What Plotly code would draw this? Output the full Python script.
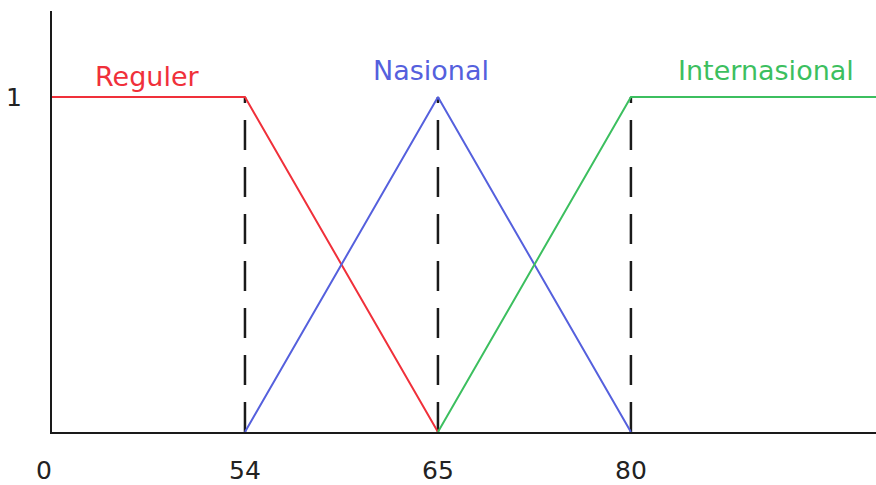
import plotly.graph_objects as go

# Breakpoints of the universe (tick labels) and their ordinal positions on the axis
tick_labels = ["0", "54", "65", "80"]
tick_pos = [0, 1, 2, 3]
x_end = 4.27  # right end of the axis (ordinal units)

# Membership functions (ordinal x, membership degree)
reguler_x = [0, 1, 2]
reguler_y = [1, 1, 0]
nasional_x = [1, 2, 3]
nasional_y = [0, 1, 0]
internasional_x = [2, 3, x_end]
internasional_y = [0, 1, 1]

series_names = ["Reguler", "Nasional", "Internasional"]
colors = ["#f0303a", "#5560dd", "#3cbf5f"]

# Dashed guides at the breakpoints 54, 65, 80
guide_x = [1, 2, 3]

FONT = "DejaVu Sans"

fig = go.Figure()
for gx in guide_x:
    fig.add_trace(go.Scatter(x=[gx, gx], y=[0, 1], mode="lines",
                             line=dict(color="#1a1a1a", width=2.5, dash="30px,17px"),
                             showlegend=False, hoverinfo="skip"))

for xs, ys, name, c in zip([reguler_x, nasional_x, internasional_x],
                           [reguler_y, nasional_y, internasional_y],
                           series_names, colors):
    fig.add_trace(go.Scatter(x=xs, y=ys, mode="lines", name=name,
                             line=dict(color=c, width=2), showlegend=False))

# Series labels
label_pos = [(0.495, 1.06), (1.966, 1.08), (3.70, 1.08)]
for name, c, (lx, ly) in zip(series_names, colors, label_pos):
    fig.add_annotation(x=lx, y=ly, text=name, showarrow=False,
                       font=dict(family=FONT, size=27, color=c))

# Tick labels on x axis
for p, t in zip(tick_pos, tick_labels):
    fig.add_annotation(x=p, y=0, text=t, showarrow=False, yshift=-38,
                       xshift=-8 if p == 0 else 0, xanchor="center",
                       font=dict(family=FONT, size=25, color="#222222"))

# y tick label "1"
fig.add_annotation(x=0, y=1, xref="paper", text="1", showarrow=False, xshift=-38,
                   xanchor="center",
                   font=dict(family=FONT, size=25, color="#222222"))

fig.update_layout(
    width=876, height=485,
    margin=dict(l=52, r=0, t=11, b=53),
    paper_bgcolor="white", plot_bgcolor="white",
    xaxis=dict(range=[0, x_end], showgrid=False, zeroline=False, showticklabels=False,
               showline=True, linecolor="#1a1a1a", linewidth=2, ticks="", fixedrange=True),
    yaxis=dict(range=[0, 1.257], showgrid=False, zeroline=False, showticklabels=False,
               showline=True, linecolor="#1a1a1a", linewidth=2, ticks="", fixedrange=True),
)
fig.write_html("out.html", config={"displayModeBar": False},
               post_script="document.body.style.margin='0';document.body.style.overflow='hidden';")
